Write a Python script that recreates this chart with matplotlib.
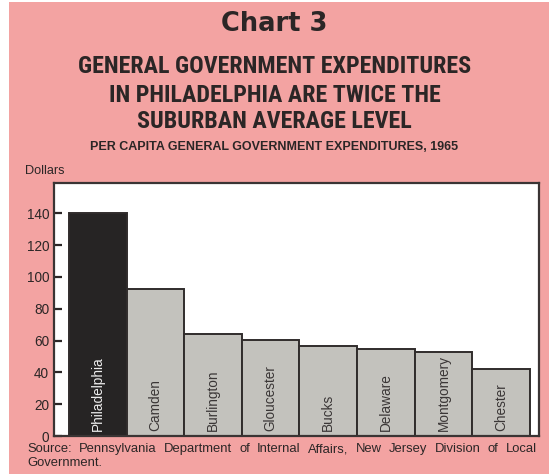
import matplotlib
matplotlib.use("Agg")
import matplotlib.pyplot as plt
from matplotlib.patches import Rectangle

# per capita general government expenditures, 1965 (dollars)
areas = ["Philadelphia", "Camden", "Burlington", "Gloucester",
         "Bucks", "Delaware", "Montgomery", "Chester"]
spending = [140, 92.5, 64, 60.5, 56.5, 54.5, 52.5, 42]
yticks = [0, 20, 40, 60, 80, 100, 120, 140]

pink = "#f3a3a2"
ink = "#2b2626"
plt.rcParams["font.family"] = ["Liberation Sans", "DejaVu Sans"]

fig = plt.figure(figsize=(5.49, 4.74), dpi=100)
fig.patch.set_facecolor("white")
fig.patches.append(Rectangle((9 / 549, 0), 1, 1 - 2 / 474, transform=fig.transFigure,
                             facecolor=pink, edgecolor="none", zorder=-10))

ax = fig.add_axes([54 / 549, 38 / 474, 485 / 549, 253 / 474])
ax.set_facecolor("white")

colors = ["#262424"] + ["#c3c2bd"] * (len(areas) - 1)
bars = ax.bar(range(len(areas)), spending, width=1.0, color=colors,
              edgecolor="#302c2c", linewidth=1.4, zorder=2)

for i, name in enumerate(areas):
    ax.text(i, 3, name, rotation=90, ha="center", va="bottom", fontsize=9.8,
            color="#eeeeee" if i == 0 else "#3a3636", zorder=3)

ax.set_xlim(-0.76, 7.66)
ax.set_ylim(0, 159)
ax.set_yticks(yticks)
ax.set_xticks([])
ax.tick_params(axis="y", direction="in", length=6, width=1.6, color=ink,
               labelsize=9.8, labelcolor=ink, pad=3.5)
for s in ax.spines.values():
    s.set_color("#3a3434")
    s.set_linewidth(1.6)

# headings
fig.text(0.5, 1 - 24 / 474, "Chart 3", ha="center", va="center", fontsize=18.5,
         fontweight="bold", family="DejaVu Sans", color=ink)
for y, line in [(67, "GENERAL GOVERNMENT EXPENDITURES"),
                (95, "IN PHILADELPHIA ARE TWICE THE"),
                (122, "SUBURBAN AVERAGE LEVEL")]:
    fig.text(0.5, 1 - y / 474, line, ha="center", va="center", fontsize=17.3,
             fontweight="bold", family=["Roboto Condensed", "Roboto", "Liberation Sans"],
             color=ink)
fig.text(0.5, 1 - 147 / 474, "PER CAPITA GENERAL GOVERNMENT EXPENDITURES, 1965",
         ha="center", va="center", fontsize=9.0, fontweight="bold", color=ink)
fig.text(25 / 549, 1 - 171 / 474, "Dollars", ha="left", va="center", fontsize=9.2,
         color=ink)

# justified source note
first = "Source: Pennsylvania Department of Internal Affairs, New Jersey Division of Local".split()
x0, x1 = 27 / 549, 537 / 549
renderer = fig.canvas.get_renderer()
words = [fig.text(0, 1 - 449 / 474, w, ha="left", va="center", fontsize=9.4, color=ink)
         for w in first]
widths = [t.get_window_extent(renderer).width / fig.bbox.width for t in words]
gap = (x1 - x0 - sum(widths)) / (len(words) - 1)
x = x0
for t, w in zip(words, widths):
    t.set_x(x)
    x += w + gap
fig.text(x0, 1 - 463 / 474, "Government.", ha="left", va="center", fontsize=9.4,
         color=ink)

fig.savefig("out.png", dpi=100, facecolor=fig.get_facecolor())
